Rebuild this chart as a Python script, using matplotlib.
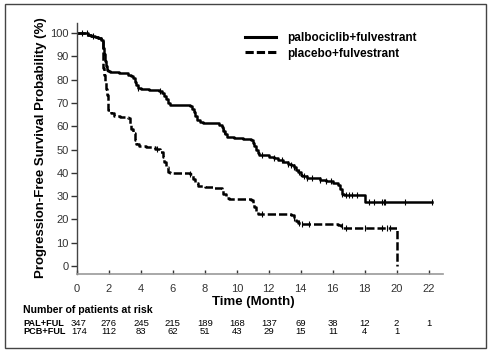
import numpy as np
import matplotlib
matplotlib.use("Agg")
import matplotlib.pyplot as plt
from matplotlib.patches import Rectangle
from matplotlib.lines import Line2D

plt.rcParams['font.family'] = ['Liberation Sans', 'DejaVu Sans']

# ---- data ----
pal_t = [0, 0.4, 0.7, 0.9, 1.1, 1.3, 1.5, 1.6, 1.65, 1.7, 1.75, 1.8, 1.86, 1.95, 2.05,
         2.6, 3.0, 3.2, 3.4, 3.5, 3.6, 3.7, 3.8, 4.0, 4.5, 5.1, 5.3, 5.45, 5.55, 5.7,
         5.85, 6.5, 7.1, 7.2, 7.3, 7.4, 7.5, 7.7, 7.9, 8.5, 8.9, 9.05, 9.15, 9.25, 9.4,
         9.8, 10.4, 10.9, 11.0, 11.1, 11.2, 11.3, 11.4, 12.0, 12.3, 12.6, 12.9, 13.2,
         13.4, 13.55, 13.7, 13.85, 14.0, 14.1, 14.4, 14.8, 15.2, 15.6, 16.0, 16.35,
         16.45, 16.55, 16.7, 18.0, 22.2]
pal_s = [100, 99.8, 99.3, 98.8, 98.2, 97.8, 97.2, 95.5, 93.5, 91, 88, 86, 84.3, 83.5, 83.2,
         83, 82.8, 82.2, 81.5, 80.5, 79, 77.5, 76.5, 75.8, 75.5, 75.2, 74.3, 73, 71.5, 70,
         69.3, 69, 68.7, 67.5, 66, 64.5, 62.8, 62, 61.5, 61.2, 60.7, 59.5, 58, 56.5, 55.5,
         55, 54.6, 54.3, 53, 51.5, 50, 48.5, 47.8, 46.9, 46.3, 45.6, 44.8, 44,
         43.3, 42.3, 41.2, 40.2, 39.2, 38.6, 38, 37.6, 37, 36.5, 35.8, 35,
         33, 31, 30.3, 27.3, 27.3]
pcb_t = [0, 0.4, 0.7, 0.9, 1.1, 1.3, 1.5, 1.6, 1.65, 1.7, 1.75, 1.8, 1.86, 1.92, 1.97,
         2.1, 2.3, 2.7, 3.2, 3.3, 3.4, 3.5, 3.6, 3.7, 3.85, 4.3, 4.9, 5.2, 5.35, 5.45,
         5.55, 5.7, 5.85, 7.1, 7.25, 7.4, 7.55, 8.0, 8.6, 9.05, 9.15, 9.3, 9.5, 10.9,
         11.0, 11.1, 11.2, 11.35, 13.4, 13.55, 13.7, 13.85, 14.0, 16.35, 16.5, 16.65,
         20.0]
pcb_s = [100, 99.8, 99.3, 98.8, 98.2, 97.8, 97.2, 90, 85, 82, 79, 76, 73.5, 70, 67,
         65.5, 64.5, 64, 63.6, 61, 59, 57, 54, 52.5, 51.6, 51, 50.3, 49, 47, 44.5,
         42.5, 40.5, 40, 39.7, 37.5, 35.5, 34.3, 34, 33.6, 33, 31, 29, 28.7, 28.5,
         26.8, 25.2, 23.5, 22.3, 22, 20.8, 19.5, 18.4, 17.9, 17.7, 17, 16.3,
         0]
pal_cens = [0.3, 0.6, 3.8, 5.2, 9.2, 11.6, 12.3, 12.8, 13.2, 13.4, 13.6, 13.9, 14.2,
            14.4, 14.7, 15.2, 15.6, 15.9, 16.6, 16.8, 17.0, 17.2, 17.5, 18.3, 18.6,
            19.1, 19.2, 19.3, 20.5, 22.2]
pcb_cens = [1.0, 5.0, 7.1, 11.6, 13.6, 13.9, 14.1, 14.5, 16.6, 16.8, 18.0, 19.1,
            19.4, 19.6]
risk_times = [0, 2, 4, 6, 8, 10, 12, 14, 16, 18, 20, 22]
pal_risk = ["347", "276", "245", "215", "189", "168", "137", "69", "38", "12", "2", "1"]
pcb_risk = ["174", "112", "83", "62", "51", "43", "29", "15", "11", "4", "1", ""]
legend_labels = ["palbociclib+fulvestrant", "placebo+fulvestrant"]
xticks = list(range(0, 23, 2))
yticks = list(range(0, 101, 10))

W, H = 490, 352
fig = plt.figure(figsize=(W / 100, H / 100), dpi=100)
ax = fig.add_axes([77 / W, 1 - 274 / H, (443 - 77) / W, (274 - 23) / H])

def step_val(ts, ss, t):
    i = np.searchsorted(ts, t, side='right') - 1
    return ss[max(i, 0)]

ax.step(pal_t, pal_s, where='post', color='black', lw=1.8)
ax.step(pcb_t, pcb_s, where='post', color='black', lw=1.8, dashes=(3.3, 1.2))
ax.plot(pal_cens, [step_val(pal_t, pal_s, t) for t in pal_cens], ls='none',
        marker='|', ms=5, mew=0.8, color='black')
ax.plot(pcb_cens, [step_val(pcb_t, pcb_s, t) for t in pcb_cens], ls='none',
        marker='|', ms=5, mew=0.8, color='black')

ax.set_xlim(0, 22.9)
ax.set_ylim(-3.4, 104.3)
ax.set_xticks(xticks)
ax.set_yticks(yticks)
for s in ['top', 'right']:
    ax.spines[s].set_visible(False)
ax.spines['left'].set_color('#444444')
ax.spines['bottom'].set_color('#999999')
ax.spines['left'].set_linewidth(1)
ax.spines['bottom'].set_linewidth(1.2)
ax.tick_params(axis='y', direction='out', length=4, width=1, pad=2, labelsize=8,
               colors='#333333')
ax.tick_params(axis='x', direction='in', length=3, width=1, pad=7, labelsize=8,
               colors='#333333')

handles = [Line2D([], [], color='black', lw=2.2),
           Line2D([], [], color='black', lw=2.2, dashes=(2.7, 1.0))]
fig.legend(handles, legend_labels, loc='upper left',
           bbox_to_anchor=(245 / W, 1 - 32 / H), frameon=False,
           prop={'weight': 'bold', 'size': 8.5}, handlelength=2.6,
           handletextpad=1.0, labelspacing=0.3, borderpad=0, borderaxespad=0)

fig.text(41 / W, 1 - 148 / H, "Progression-Free Survival Probability (%)",
         rotation=90, ha='center', va='center', fontsize=9.5, fontweight='bold')
fig.text(253 / W, 1 - 302 / H, "Time (Month)", ha='center', va='center',
         fontsize=9.5, fontweight='bold')
fig.text(23 / W, 1 - 310 / H, "Number of patients at risk", ha='left', va='center',
         fontsize=7.6, fontweight='bold')
fig.text(23 / W, 1 - 323.5 / H, "PAL+FUL", ha='left', va='center', fontsize=6.6,
         fontweight='bold')
fig.text(23 / W, 1 - 331.5 / H, "PCB+FUL", ha='left', va='center', fontsize=6.6,
         fontweight='bold')
for t, a, b in zip(risk_times, pal_risk, pcb_risk):
    xf = ax.transData.transform((t, 0))[0] / W
    if t == 0:
        xf += 2 / W
    fig.text(xf, 1 - 323.5 / H, a, ha='center', va='center', fontsize=6.8)
    fig.text(xf, 1 - 331.5 / H, b, ha='center', va='center', fontsize=6.8)

fig.add_artist(Rectangle((5 / W, 1 - 348 / H), 481 / W, 344 / H,
                         transform=fig.transFigure, fill=False,
                         edgecolor='#444444', lw=1))

fig.savefig("out.png", dpi=100)
